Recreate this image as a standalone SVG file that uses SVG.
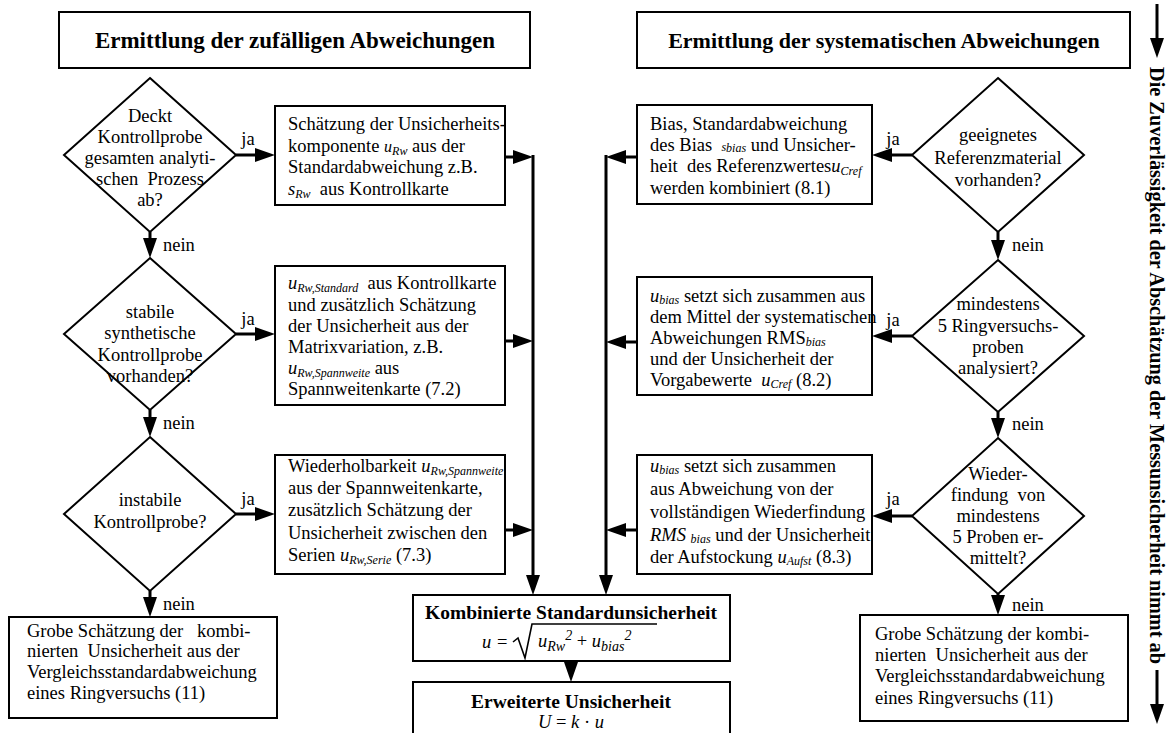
<svg xmlns="http://www.w3.org/2000/svg" width="1167" height="733" viewBox="0 0 1167 733" xml:space="preserve">
<style>
text{font-family:"Liberation Serif","Times New Roman",serif;font-size:18.5px;fill:#000;white-space:pre}
.c{text-anchor:middle}
.h{font-weight:bold;font-size:23px;text-anchor:middle}
.h2{font-weight:bold;font-size:22px;text-anchor:middle}
.hb{font-weight:bold;font-size:19.5px;text-anchor:middle}
.side{font-weight:bold;font-size:20.3px}
.i{font-style:italic}
.s{font-style:italic;font-size:12px}
.s2{font-style:italic;font-size:14px}
.box{fill:#fff;stroke:#000;stroke-width:2}
.con{fill:none;stroke:#000;stroke-width:3}
</style>
<defs>
<marker id="ah" markerUnits="userSpaceOnUse" markerWidth="20" markerHeight="14" refX="10" refY="7" orient="auto" viewBox="0 0 20 14"><path d="M0,0 L20,7 L0,14 z" fill="#000"/></marker>
</defs>
<rect width="1167" height="733" fill="#fff"/>
<g id="connectors">
<path class="con" marker-end="url(#ah)" d="M236,155 H265"/>
<path class="con" marker-end="url(#ah)" d="M236,334 H265"/>
<path class="con" marker-end="url(#ah)" d="M236,514 H265"/>
<path class="con" marker-end="url(#ah)" d="M150,232 V248"/>
<path class="con" marker-end="url(#ah)" d="M150,410 V427"/>
<path class="con" marker-end="url(#ah)" d="M150,591 V607"/>
<path class="con" marker-end="url(#ah)" d="M505,157 H523"/>
<path class="con" marker-end="url(#ah)" d="M505,341 H523"/>
<path class="con" marker-end="url(#ah)" d="M505,530 H523"/>
<path class="con" marker-end="url(#ah)" d="M533,155 V585"/>
<path class="con" marker-end="url(#ah)" d="M912,155 H882"/>
<path class="con" marker-end="url(#ah)" d="M912,336 H882"/>
<path class="con" marker-end="url(#ah)" d="M912,516 H882"/>
<path class="con" marker-end="url(#ah)" d="M998,232 V250"/>
<path class="con" marker-end="url(#ah)" d="M998,412 V428"/>
<path class="con" marker-end="url(#ah)" d="M998,594 V605"/>
<path class="con" marker-end="url(#ah)" d="M637,157 H616"/>
<path class="con" marker-end="url(#ah)" d="M637,342 H616"/>
<path class="con" marker-end="url(#ah)" d="M637,530 H616"/>
<path class="con" marker-end="url(#ah)" d="M606,155 V585"/>
<path class="con" marker-end="url(#ah)" d="M571,661 V672"/>
<path class="con" marker-end="url(#ah)" d="M1157,4 V48"/>
<path class="con" marker-end="url(#ah)" d="M1157,670 V714"/>
<text x="248" y="145" class="c">ja</text>
<text x="248" y="325" class="c">ja</text>
<text x="248" y="505" class="c">ja</text>
<text x="163" y="251">nein</text>
<text x="163" y="429">nein</text>
<text x="163" y="610">nein</text>
<text x="893" y="145" class="c">ja</text>
<text x="893" y="326" class="c">ja</text>
<text x="893" y="505" class="c">ja</text>
<text x="1012" y="251">nein</text>
<text x="1012" y="430">nein</text>
<text x="1012" y="611">nein</text>
</g>
<g id="header-left">
<rect class="box" x="59" y="12" width="471" height="56"/>
<text x="295" y="48" class="h">Ermittlung der zufälligen Abweichungen</text>
</g>
<g id="header-right">
<rect class="box" x="637" y="12" width="493" height="56"/>
<text x="884" y="48" class="h2">Ermittlung der systematischen Abweichungen</text>
</g>
<g id="d1">
<polygon class="box" points="150,78 236,155 150,232 64,155"/>
<text x="150" y="122" class="c">Deckt</text>
<text x="150" y="143" class="c">Kontrollprobe</text>
<text x="150" y="164" class="c">gesamten analyti-</text>
<text x="150" y="185" class="c">schen  Prozess</text>
<text x="150" y="206" class="c">ab?</text>
</g>
<g id="d2">
<polygon class="box" points="150,258 236,334 150,410 64,334"/>
<text x="150" y="318" class="c">stabile</text>
<text x="150" y="339" class="c">synthetische</text>
<text x="150" y="361" class="c">Kontrollprobe</text>
<text x="150" y="382" class="c">vorhanden?</text>
</g>
<g id="d3">
<polygon class="box" points="150,437 236,514 150,591 64,514"/>
<text x="150" y="506" class="c">instabile</text>
<text x="150" y="528" class="c">Kontrollprobe?</text>
</g>
<g id="b1">
<rect class="box" x="275" y="106" width="230" height="99"/>
<text x="288" y="130">Schätzung der Unsicherheits-</text>
<text x="288" y="152">komponente <tspan class="i" font-size="16">u</tspan><tspan class="s" dy="3">Rw</tspan><tspan dy="-3"> aus der</tspan></text>
<text x="288" y="173">Standardabweichung z.B.</text>
<text x="288" y="195"><tspan class="i">s</tspan><tspan class="s" dy="3">Rw</tspan><tspan dy="-3">  aus Kontrollkarte</tspan></text>
</g>
<g id="b2">
<rect class="box" x="275" y="266" width="230" height="139"/>
<text x="288" y="289"><tspan class="i">u</tspan><tspan class="s" dy="3">Rw,Standard</tspan><tspan dy="-3">  aus Kontrollkarte</tspan></text>
<text x="288" y="311">und zusätzlich Schätzung</text>
<text x="288" y="332">der Unsicherheit aus der</text>
<text x="288" y="353">Matrixvariation, z.B.</text>
<text x="288" y="374"><tspan class="i">u</tspan><tspan class="s" dy="3">Rw,Spannweite</tspan><tspan dy="-3"> aus</tspan></text>
<text x="288" y="395">Spannweitenkarte (7.2)</text>
</g>
<g id="b3">
<rect class="box" x="275" y="455" width="230" height="119"/>
<text x="288" y="472">Wiederholbarkeit <tspan class="i">u</tspan><tspan class="s" dy="3">Rw,Spannweite</tspan></text>
<text x="288" y="494">aus der Spannweitenkarte,</text>
<text x="288" y="516">zusätzlich Schätzung der</text>
<text x="288" y="539">Unsicherheit zwischen den</text>
<text x="288" y="561">Serien <tspan class="i">u</tspan><tspan class="s" dy="3">Rw,Serie</tspan><tspan dy="-3"> (7.3)</tspan></text>
</g>
<g id="b4">
<rect class="box" x="9" y="617" width="268" height="101"/>
<text x="27" y="637">Grobe Schätzung der   kombi-</text>
<text x="27" y="657">nierten  Unsicherheit aus der</text>
<text x="27" y="678">Vergleichsstandardabweichung</text>
<text x="27" y="699">eines Ringversuchs (11)</text>
</g>
<g id="r1d">
<polygon class="box" points="998,78 1084,155 998,232 912,155"/>
<text x="998" y="141" class="c">geeignetes</text>
<text x="998" y="164" class="c">Referenzmaterial</text>
<text x="998" y="186" class="c">vorhanden?</text>
</g>
<g id="r2d">
<polygon class="box" points="998,260 1084,336 998,412 912,336"/>
<text x="998" y="310" class="c">mindestens</text>
<text x="998" y="332" class="c">5 Ringversuchs-</text>
<text x="998" y="353" class="c">proben</text>
<text x="998" y="374" class="c">analysiert?</text>
</g>
<g id="r3d">
<polygon class="box" points="998,438 1084,516 998,594 912,516"/>
<text x="998" y="480" class="c">Wieder-</text>
<text x="998" y="501" class="c">findung  von</text>
<text x="998" y="522" class="c">mindestens</text>
<text x="998" y="543" class="c">5 Proben er-</text>
<text x="998" y="564" class="c">mittelt?</text>
</g>
<g id="r1b">
<rect class="box" x="637" y="105" width="235" height="99"/>
<text x="650" y="130">Bias, Standardabweichung</text>
<text x="650" y="151">des Bias  <tspan class="s">s</tspan><tspan class="s" dy="1">bias</tspan><tspan dy="-1"> und Unsicher-</tspan></text>
<text x="650" y="172">heit  des Referenzwertes<tspan class="i">u</tspan><tspan class="s" dy="3">Cref</tspan></text>
<text x="650" y="194">werden kombiniert (8.1)</text>
</g>
<g id="r2b">
<rect class="box" x="637" y="277" width="235" height="118"/>
<text x="650" y="302"><tspan class="i">u</tspan><tspan class="s" dy="2">bias</tspan><tspan dy="-2"> setzt sich zusammen aus</tspan></text>
<text x="650" y="323">dem Mittel der systematischen</text>
<text x="650" y="344">Abweichungen RMS<tspan class="s" dy="2">bias</tspan></text>
<text x="650" y="365">und der Unsicherheit der</text>
<text x="650" y="386">Vorgabewerte  <tspan class="i">u</tspan><tspan class="s" dy="2">Cref</tspan><tspan dy="-2"> (8.2)</tspan></text>
</g>
<g id="r3b">
<rect class="box" x="637" y="455" width="235" height="119"/>
<text x="650" y="472"><tspan class="i">u</tspan><tspan class="s" dy="2">bias</tspan><tspan dy="-2"> setzt sich zusammen</tspan></text>
<text x="650" y="495">aus Abweichung von der</text>
<text x="650" y="518">vollständigen Wiederfindung</text>
<text x="650" y="541"><tspan class="i">RMS </tspan><tspan class="s" dy="2">bias</tspan><tspan dy="-2"> und der Unsicherheit</tspan></text>
<text x="650" y="563">der Aufstockung <tspan class="i">u</tspan><tspan class="s" dy="2">Aufst</tspan><tspan dy="-2"> (8.3)</tspan></text>
</g>
<g id="b5">
<rect class="box" x="860" y="615" width="268" height="106"/>
<text x="875" y="640">Grobe Schätzung der kombi-</text>
<text x="875" y="661">nierten  Unsicherheit aus der</text>
<text x="875" y="682">Vergleichsstandardabweichung</text>
<text x="875" y="704">eines Ringversuchs (11)</text>
</g>
<g id="kombi">
<rect class="box" x="413" y="595" width="317" height="66"/>
<text x="571" y="619" class="hb">Kombinierte Standardunsicherheit</text>
<text x="482" y="648" class="i">u</text>
<text x="497" y="648">=</text>
<polyline points="513,642 518,638 525,658 532,624 657,624" fill="none" stroke="#000" stroke-width="1.6"/>
<text x="538" y="647"><tspan class="i">u</tspan><tspan class="s2" dy="4">Rw</tspan><tspan class="s2" dy="-11">2</tspan><tspan dy="7"> + </tspan><tspan class="i">u</tspan><tspan class="s2" dy="4">bias</tspan><tspan class="s2" dy="-11">2</tspan></text>
</g>
<g id="erw">
<rect class="box" x="413" y="682" width="317" height="56"/>
<text x="571" y="708" class="hb">Erweiterte Unsicherheit</text>
<text x="571" y="728" class="c"><tspan class="i">U</tspan> = <tspan class="i">k</tspan> · <tspan class="i">u</tspan></text>
</g>
<g id="side">
<text transform="translate(1150,67) rotate(90)" class="side">Die Zuverlässigkeit der Abschätzung der Messunsicherheit nimmt ab</text>
</g>
</svg>
